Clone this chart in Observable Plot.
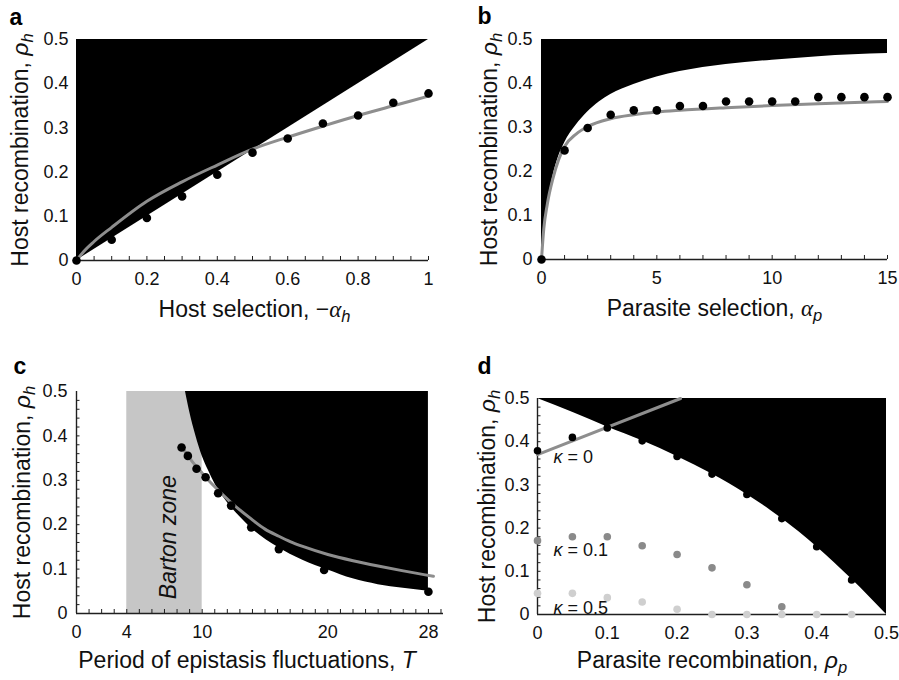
<!DOCTYPE html>
<html><head><meta charset="utf-8">
<script src="https://cdn.jsdelivr.net/npm/d3@7"></script>
<script src="https://cdn.jsdelivr.net/npm/@observablehq/plot@0.6"></script>
<style>
body{margin:0;background:#fff;}
#fig{position:relative;width:899px;height:680px;overflow:hidden;background:#fff;}
.panel{position:absolute;}
</style></head><body>
<div id="fig">
<div class="panel" id="pa" style="left:0px;top:0px"></div>
<div class="panel" id="pb" style="left:450px;top:0px"></div>
<div class="panel" id="pc" style="left:0px;top:330px"></div>
<div class="panel" id="pd" style="left:450px;top:330px"></div>
</div>
<script>
// ---------- Panel a : host selection ----------
const aXTicks = [0, 0.2, 0.4, 0.6, 0.8, 1];
const aYTicks = [0, 0.1, 0.2, 0.3, 0.4, 0.5];
const aBoundaryX = [0, 1];
const aBoundaryY = [0, 0.5];
const aCurveX = [0, 0.02, 0.05, 0.1, 0.2, 0.3, 0.4, 0.5, 0.6, 0.7, 0.8, 0.9, 1];
const aCurveY = [0, 0.02, 0.043, 0.075, 0.134, 0.178, 0.216, 0.252, 0.279, 0.304, 0.328, 0.35, 0.372];
const aDotX = [0, 0.1, 0.2, 0.3, 0.4, 0.5, 0.6, 0.7, 0.8, 0.9, 1];
const aDotY = [0, 0.047, 0.096, 0.145, 0.194, 0.244, 0.276, 0.31, 0.328, 0.357, 0.378];

// ---------- Panel b : parasite selection ----------
const bXTicks = [0, 5, 10, 15];
const bYTicks = [0, 0.1, 0.2, 0.3, 0.4, 0.5];
const bBoundaryX = [0, 0.1, 0.25, 0.5, 0.75, 1, 1.5, 2, 2.5, 3, 4, 5, 6, 8, 10, 12, 15];
const bBoundaryY = [0, 0.07, 0.125, 0.19, 0.235, 0.265, 0.305, 0.335, 0.358, 0.375, 0.398, 0.415, 0.427, 0.443, 0.453, 0.461, 0.468];
const bCurveX = [0, 0.1, 0.25, 0.5, 0.75, 1, 1.5, 2, 3, 4, 5, 6, 8, 10, 12, 15];
const bCurveY = [0, 0.07, 0.125, 0.185, 0.228, 0.257, 0.285, 0.302, 0.32, 0.329, 0.335, 0.339, 0.345, 0.35, 0.354, 0.359];
const bDotX = [0, 1, 2, 3, 4, 5, 6, 7, 8, 9, 10, 11, 12, 13, 14, 15];
const bDotY = [0, 0.248, 0.299, 0.329, 0.339, 0.339, 0.349, 0.349, 0.359, 0.359, 0.359, 0.359, 0.369, 0.369, 0.369, 0.369];

// ---------- Panel c : period of epistasis fluctuations ----------
const cXTicks = [0, 4, 10, 20, 28];
const cYTicks = [0, 0.1, 0.2, 0.3, 0.4, 0.5];
const bartonX1 = [4];
const bartonX2 = [10];
const cBoundaryX = [8.67, 9, 9.5, 10, 10.5, 11, 12, 13, 14, 16, 18, 20, 22, 24, 26, 28];
const cBoundaryY = [0.5, 0.455, 0.4, 0.355, 0.322, 0.293, 0.25, 0.218, 0.19, 0.15, 0.12, 0.098, 0.078, 0.065, 0.057, 0.05];
const cCurveX = [8.3, 9, 9.5, 10, 10.5, 11.3, 12.3, 13.9, 15, 16.1, 17, 18, 20, 22, 24, 26, 28.4];
const cCurveY = [0.378, 0.35, 0.332, 0.316, 0.3, 0.277, 0.25, 0.213, 0.19, 0.174, 0.162, 0.151, 0.133, 0.119, 0.107, 0.096, 0.084];
const cDotX = [8.36, 8.86, 9.55, 10.27, 11.27, 12.3, 13.9, 16.1, 19.7, 28];
const cDotY = [0.374, 0.355, 0.326, 0.307, 0.271, 0.243, 0.194, 0.145, 0.098, 0.049];
const bartonLabel = ["Barton zone"];
const bartonLabelX = [7.3];
const bartonLabelY = [0.172];

// ---------- Panel d : parasite recombination ----------
const dXTicks = [0, 0.1, 0.2, 0.3, 0.4, 0.5];
const dYTicks = [0, 0.1, 0.2, 0.3, 0.4, 0.5];
const dBoundaryX = [0, 0.05, 0.1, 0.15, 0.2, 0.25, 0.3, 0.35, 0.4, 0.45, 0.5];
const dBoundaryY = [0.5, 0.468, 0.434, 0.402, 0.366, 0.325, 0.278, 0.222, 0.157, 0.082, 0];
const dLineX = [0, 0.205];
const dLineY = [0.37, 0.5];
const dK0X = [0, 0.05, 0.1, 0.15, 0.2, 0.25, 0.3, 0.35, 0.4, 0.45];
const dK0Y = [0.379, 0.41, 0.432, 0.402, 0.366, 0.325, 0.278, 0.222, 0.157, 0.08];
const dK01X = [0, 0.05, 0.1, 0.15, 0.2, 0.25, 0.3, 0.35];
const dK01Y = [0.171, 0.18, 0.18, 0.159, 0.139, 0.108, 0.069, 0.018];
const dK05X = [0, 0.05, 0.1, 0.15, 0.2, 0.25, 0.3, 0.35, 0.4, 0.45];
const dK05Y = [0.049, 0.049, 0.039, 0.029, 0.012, 0, 0, 0, 0, 0];
const kappaLabels = ["κ = 0", "κ = 0.1", "κ = 0.5"];
const kappaLabelX = [0.023, 0.023, 0.023];
const kappaLabelY = [0.364, 0.148, 0.014];

// ---------- titles ----------
const yTitle = "Host recombination, rho_h";
const aXTitle = "Host selection, -alpha_h";
const bXTitle = "Parasite selection, alpha_p";
const cXTitle = "Period of epistasis fluctuations, T";
const dXTitle = "Parasite recombination, rho_p";

const FONT = "'Liberation Sans', Arial, Helvetica, sans-serif";
const SUB = (s) => `<tspan font-style="italic" font-size="0.72em" dy="0.3em">${s}</tspan>`;
const RICH = {
  "Host recombination, rho_h": `Host recombination, <tspan font-style="italic">ρ</tspan>${SUB("h")}`,
  "Host selection, -alpha_h": `Host selection, −<tspan font-style="italic" font-family="'Liberation Serif', serif">α</tspan>${SUB("h")}`,
  "Parasite selection, alpha_p": `Parasite selection, <tspan font-style="italic" font-family="'Liberation Serif', serif">α</tspan>${SUB("p")}`,
  "Period of epistasis fluctuations, T": `Period of epistasis fluctuations, <tspan font-style="italic">T</tspan>`,
  "Parasite recombination, rho_p": `Parasite recombination, <tspan font-style="italic">ρ</tspan>${SUB("p")}`,
  "κ = 0": `<tspan font-style="italic">κ</tspan> = 0`,
  "κ = 0.1": `<tspan font-style="italic">κ</tspan> = 0.1`,
  "κ = 0.5": `<tspan font-style="italic">κ</tspan> = 0.5`
};

const pts = (xs, ys) => xs.map((x, i) => ({x, y: ys[i]}));
const fmt = d => String(d);
const AX = "#1f1f1f";
const GRAY = "#8e8e8e";

function frameMarks(c) {
  return [
    Plot.ruleY([0], {stroke: AX, strokeWidth: 1.4}),
    c.yLine ? Plot.ruleX([0], {stroke: AX, strokeWidth: 1.4}) : null,
    c.xMinor ? Plot.tickX(c.xMinor, {x: d => d, insetTop: c.h - 4, stroke: AX}) : null,
    c.yMinor ? Plot.tickY(c.yMinor, {y: d => d, insetRight: c.w - 3.5, stroke: AX}) : null,
    Plot.axisX({ticks: c.xTicks, anchor: "bottom", tickSize: 0, tickPadding: 12, tickFormat: fmt, label: null, fontSize: 18, fill: "#111"}),
    Plot.axisY({ticks: c.yTicks, anchor: "left", tickSize: 0, tickPadding: c.yPad, tickFormat: fmt, label: null, fontSize: 18, fill: "#111"}),
    Plot.text([c.letter], {text: d => d, frameAnchor: "top-left", dx: c.ldx, dy: c.ldy, lineAnchor: "bottom", textAnchor: "start", fontWeight: "bold", fontSize: 23, fill: "#000"}),
    Plot.text([c.xTitle], {text: d => d, frameAnchor: "bottom", dx: c.tdx || 0, dy: c.tdy, lineAnchor: "middle", textAnchor: "middle", fontSize: 23, fill: "#111"}),
    Plot.text([yTitle], {text: d => d, frameAnchor: "left", dx: c.ydx, rotate: -90, lineAnchor: "middle", textAnchor: "middle", fontSize: 23, fill: "#111"})
  ].filter(Boolean);
}

function finish(svg, id) {
  svg.querySelectorAll("text").forEach(t => {
    const k = t.textContent;
    if (RICH[k] !== undefined && t.children.length === 0) t.innerHTML = RICH[k];
  });
  document.getElementById(id).appendChild(svg);
}

const base = (w, h, ml, mr, mt, mb) => ({
  width: w, height: h, marginLeft: ml, marginRight: mr, marginTop: mt, marginBottom: mb,
  style: {fontFamily: FONT, overflow: "visible", background: "transparent"}
});

// Panel a
finish(Plot.plot({
  ...base(449, 330, 76, 21, 39, 70),
  x: {domain: [0, 1], axis: null},
  y: {domain: [0, 0.5], axis: null},
  marks: [
    Plot.area(pts(aBoundaryX, aBoundaryY), {x1: "x", y1: "y", y2: 0.5, fill: "#000"}),
    ...frameMarks({h: 221, w: 352, xTicks: aXTicks, yTicks: aYTicks, xMinor: d3.range(0.05, 1.001, 0.05), yPad: 8,
      letter: "a", ldx: -67, ldy: -15, xTitle: aXTitle, tdx: 2, tdy: 49, ydx: -56}),
    Plot.line(pts(aCurveX, aCurveY), {x: "x", y: "y", stroke: GRAY, strokeWidth: 3, curve: "monotone-x"}),
    Plot.dot(pts(aDotX, aDotY), {x: "x", y: "y", r: 4.3, fill: "#000"})
  ]
}), "pa");

// Panel b
finish(Plot.plot({
  ...base(449, 330, 91, 12, 39, 71),
  x: {domain: [0, 15], axis: null},
  y: {domain: [0, 0.5], axis: null},
  marks: [
    Plot.area(pts(bBoundaryX, bBoundaryY), {x1: "x", y1: "y", y2: 0.5, fill: "#000", curve: "monotone-x"}),
    ...frameMarks({h: 220, w: 346, xTicks: bXTicks, yTicks: bYTicks, xMinor: d3.range(1, 15.001, 1), yPad: 9,
      letter: "b", ldx: -64, ldy: -16, xTitle: bXTitle, tdy: 49, ydx: -52}),
    Plot.line(pts(bCurveX, bCurveY), {x: "x", y: "y", stroke: GRAY, strokeWidth: 3, curve: "monotone-x"}),
    Plot.dot(pts(bDotX, bDotY), {x: "x", y: "y", r: 4.3, fill: "#000"})
  ]
}), "pb");

// Panel c
finish(Plot.plot({
  ...base(450, 350, 76, 7, 61, 67),
  x: {domain: [0, 29.2], axis: null},
  y: {domain: [0, 0.5], axis: null},
  marks: [
    Plot.rect(bartonX1.map((x1, i) => ({x1, x2: bartonX2[i]})), {x1: "x1", x2: "x2", y1: 0, y2: 0.5, fill: "#c6c6c6"}),
    Plot.area(pts(cBoundaryX, cBoundaryY), {x1: "x", y1: "y", y2: 0.5, fill: "#000", curve: "monotone-x"}),
    ...frameMarks({h: 222, w: 367, yLine: true, xTicks: cXTicks, yTicks: cYTicks, xMinor: d3.range(1, 29.001, 1), yMinor: d3.range(0.02, 0.5, 0.02), yPad: 9,
      letter: "c", ldx: -63, ldy: -18, xTitle: cXTitle, tdx: -13, tdy: 47.5, ydx: -54}),
    Plot.text(bartonLabel.map((t, i) => ({t, x: bartonLabelX[i], y: bartonLabelY[i]})), {x: "x", y: "y", text: "t", rotate: -90, textAnchor: "middle", fontStyle: "italic", fontSize: 23, fill: "#111"}),
    Plot.line(pts(cCurveX, cCurveY), {x: "x", y: "y", stroke: GRAY, strokeWidth: 3, curve: "monotone-x"}),
    Plot.dot(pts(cDotX, cDotY), {x: "x", y: "y", r: 4.3, fill: "#000"})
  ]
}), "pc");

// Panel d
finish(Plot.plot({
  ...base(449, 350, 87, 13, 68, 66),
  x: {domain: [0, 0.5], axis: null},
  y: {domain: [0, 0.5], axis: null},
  marks: [
    Plot.area(pts(dBoundaryX, dBoundaryY), {x1: "x", y1: "y", y2: 0.5, fill: "#000", curve: "monotone-x"}),
    ...frameMarks({h: 216, w: 349, yLine: true, xTicks: dXTicks, yTicks: dYTicks, yMinor: d3.range(0.02, 0.5, 0.02), yPad: 8,
      letter: "d", ldx: -60, ldy: -25, xTitle: dXTitle, tdy: 46.5, ydx: -50}),
    Plot.text(kappaLabels.map((t, i) => ({t, x: kappaLabelX[i], y: kappaLabelY[i]})), {x: "x", y: "y", text: "t", textAnchor: "start", fontSize: 18, fill: "#111"}),
    Plot.dot(pts(dK05X, dK05Y), {x: "x", y: "y", r: 3.8, fill: "#cfcfcf"}),
    Plot.dot(pts(dK01X, dK01Y), {x: "x", y: "y", r: 3.8, fill: "#8a8a8a"}),
    Plot.line(pts(dLineX, dLineY), {x: "x", y: "y", stroke: GRAY, strokeWidth: 3}),
    Plot.dot(pts(dK0X, dK0Y), {x: "x", y: "y", r: 3.8, fill: "#000"})
  ]
}), "pd");
</script>
</body></html>
